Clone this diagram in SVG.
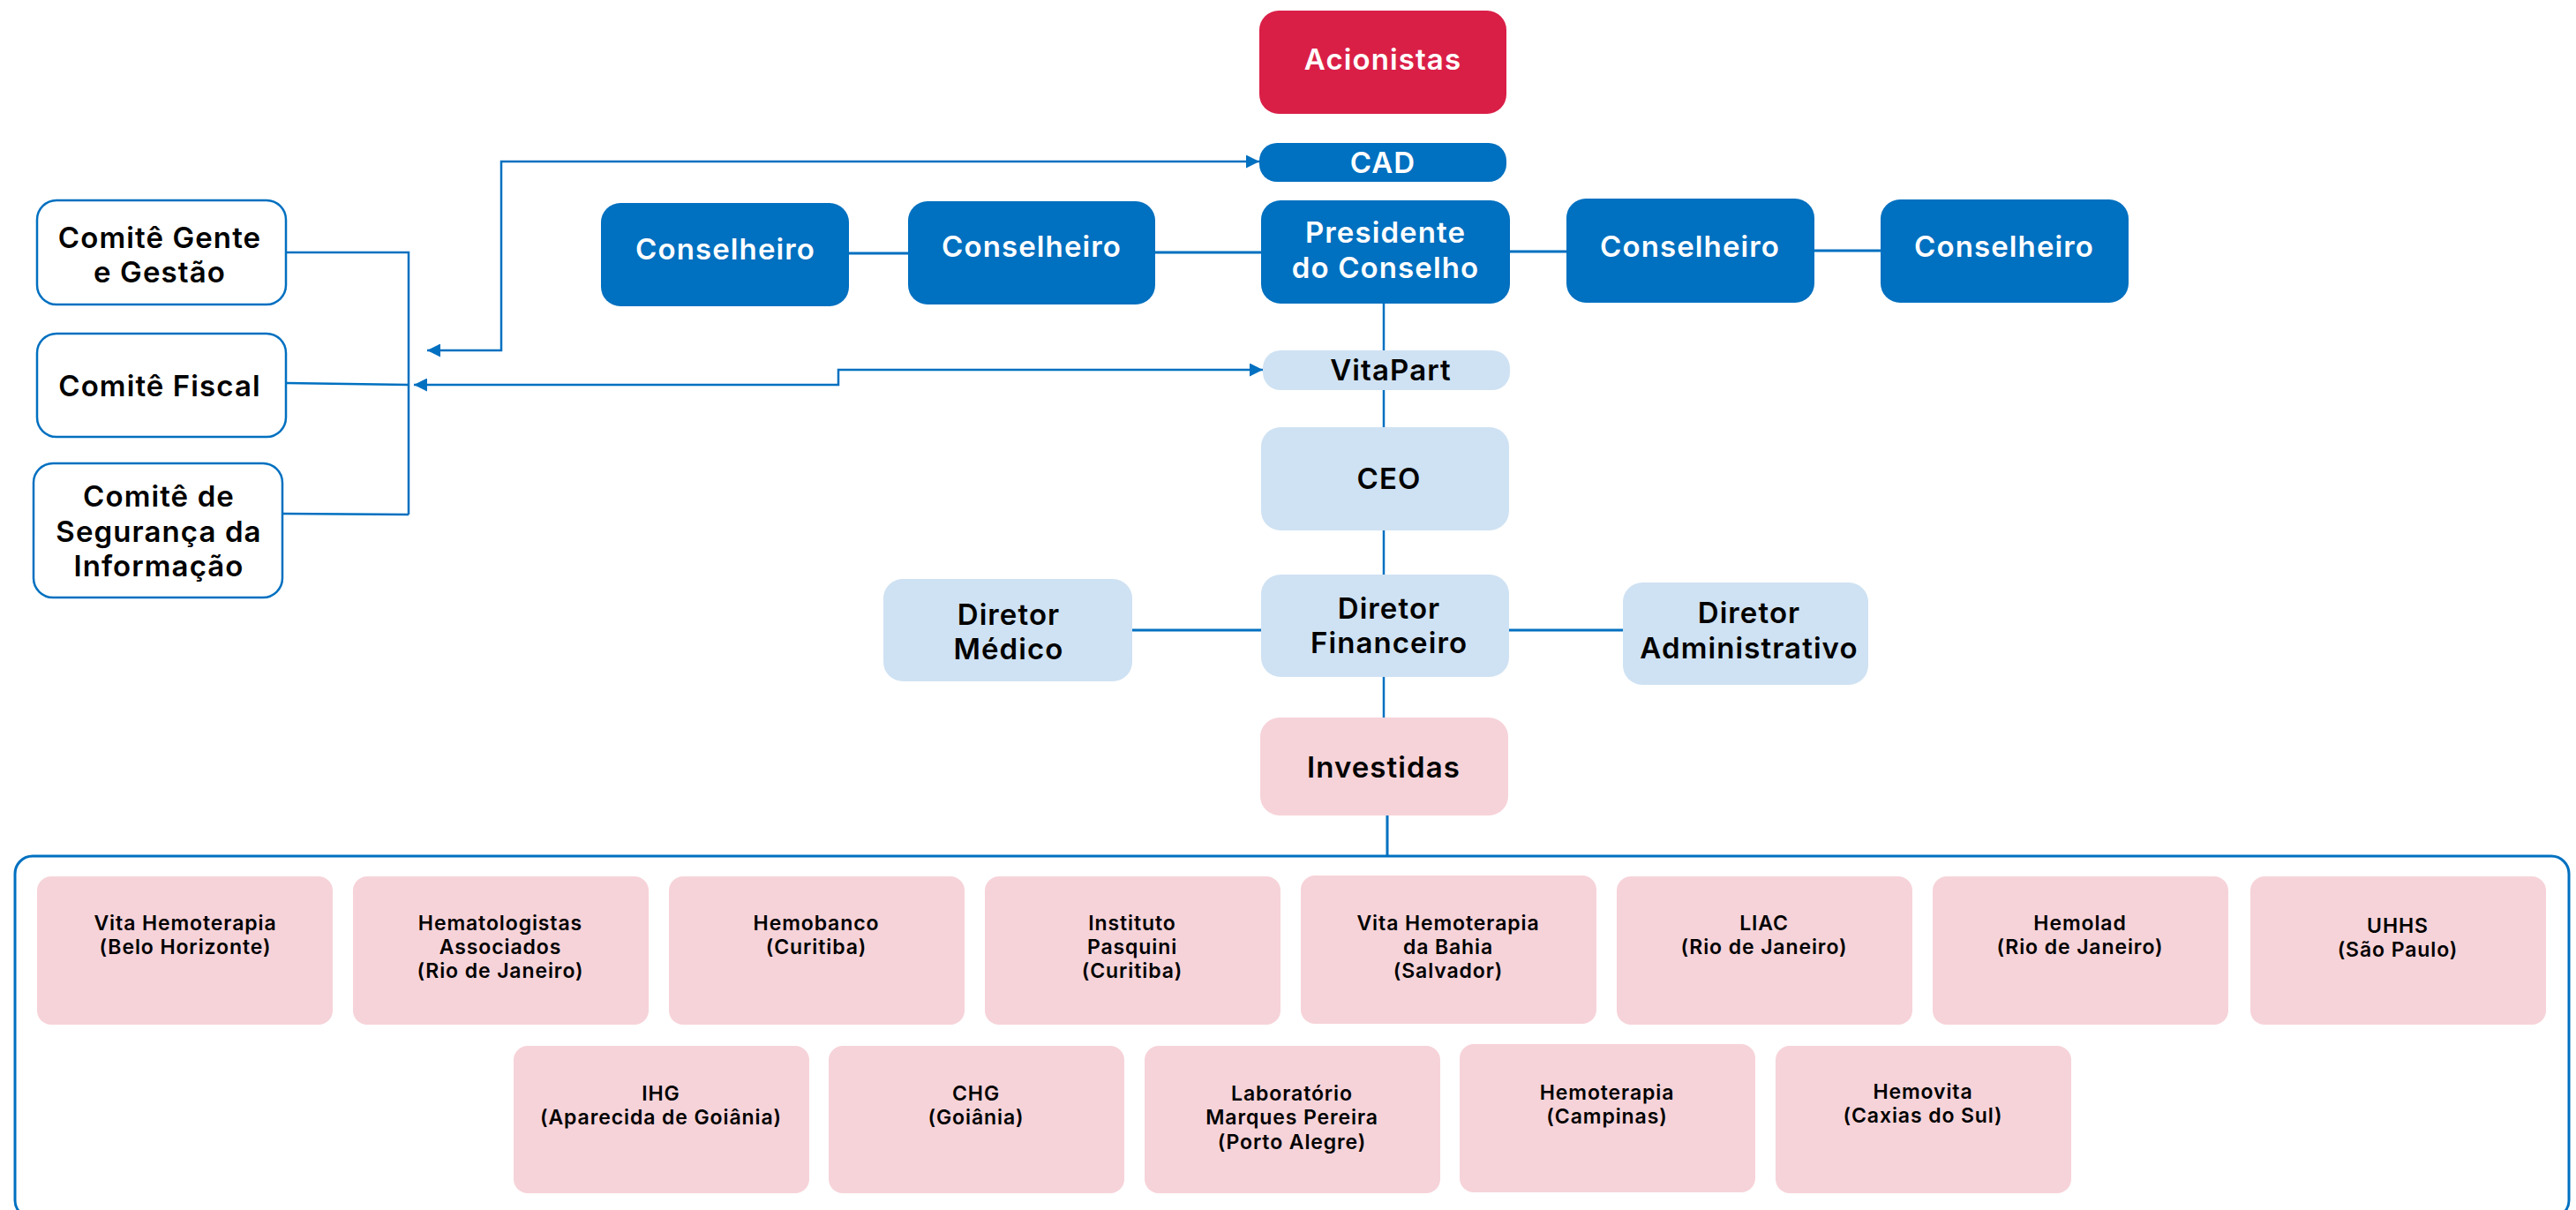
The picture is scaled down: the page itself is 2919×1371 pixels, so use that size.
<svg xmlns="http://www.w3.org/2000/svg" width="2919" height="1371" viewBox="0 0 2919 1371">
<defs>
<style>
.dark{fill:#0070C0}
.red{fill:#DA1F47}
.light{fill:#CFE2F3}
.pink{fill:#F6D3D9}
.com{fill:#FFFFFF;stroke:#0070C0;stroke-width:2.5}
.tw{font-family:Inter,"Open Sans",sans-serif;font-weight:600;font-size:33px;letter-spacing:1.1px;fill:#FFFFFF;text-anchor:middle}
.tb{font-family:Inter,"Open Sans",sans-serif;font-weight:600;font-size:33px;letter-spacing:1.1px;fill:#000000;text-anchor:middle}
.ts{font-family:Inter,"Open Sans",sans-serif;font-weight:600;font-size:23px;letter-spacing:0.9px;fill:#000000;text-anchor:middle}
.ln{fill:none;stroke:#0070C0;stroke-width:2.5}
.lh{fill:none;stroke:#0070C0;stroke-width:3}
</style>
<marker id="ah" viewBox="0 0 10 10" refX="10" refY="5" markerWidth="6" markerHeight="6" markerUnits="strokeWidth" orient="auto-start-reverse">
<path d="M0,0 L10,5 L0,10 z" fill="#0070C0"/>
</marker>
</defs>
<rect width="2919" height="1371" fill="#FFFFFF"/>

<g id="connectors">
<path class="lh" d="M962,287 H1029"/>
<path class="lh" d="M1309,286 H1429"/>
<path class="lh" d="M1711,285 H1775"/>
<path class="lh" d="M2056,284 H2131"/>
<path class="ln" d="M1568,344 V397"/>
<path class="ln" d="M1568,442 V484"/>
<path class="ln" d="M1568,601 V651"/>
<path class="ln" d="M1568,767 V813"/>
<path class="lh" d="M1572,924 V970"/>
<path class="lh" d="M1283,714 H1429"/>
<path class="lh" d="M1710,714 H1839"/>
<path class="ln" d="M324,286 H463 V583"/>
<path class="ln" d="M324,434 L463,436"/>
<path class="ln" d="M320,582 L463,583"/>
<path class="ln" d="M484,397 H568 V183 H1427" marker-start="url(#ah)" marker-end="url(#ah)"/>
<path class="ln" d="M469,436 H950 V419 H1431" marker-start="url(#ah)" marker-end="url(#ah)"/>
</g>

<g id="acionistas"><rect class="red" x="1427" y="12" width="280" height="117" rx="22"/><text class="tw" x="1567" y="79">Acionistas</text></g>
<g id="cad"><rect class="dark" x="1427" y="162" width="280" height="44" rx="20"/><text class="tw" x="1567" y="196">CAD</text></g>
<g id="presidente"><rect class="dark" x="1429" y="227" width="282" height="117" rx="22"/><text class="tw" x="1570" y="275">Presidente</text><text class="tw" x="1570" y="315">do Conselho</text></g>
<g id="conselheiro1"><rect class="dark" x="681" y="230" width="281" height="117" rx="22"/><text class="tw" x="822" y="294">Conselheiro</text></g>
<g id="conselheiro2"><rect class="dark" x="1029" y="228" width="280" height="117" rx="22"/><text class="tw" x="1169" y="291">Conselheiro</text></g>
<g id="conselheiro3"><rect class="dark" x="1775" y="225" width="281" height="118" rx="22"/><text class="tw" x="1915" y="291">Conselheiro</text></g>
<g id="conselheiro4"><rect class="dark" x="2131" y="226" width="281" height="117" rx="22"/><text class="tw" x="2271" y="291">Conselheiro</text></g>

<g id="comite-gente"><rect class="com" x="42" y="227" width="282" height="118" rx="22"/><text class="tb" x="181" y="281">Comitê Gente</text><text class="tb" x="181" y="320">e Gestão</text></g>
<g id="comite-fiscal"><rect class="com" x="42" y="378" width="282" height="117" rx="22"/><text class="tb" x="181" y="449">Comitê Fiscal</text></g>
<g id="comite-seguranca"><rect class="com" x="38" y="525" width="282" height="152" rx="22"/><text class="tb" x="180" y="574">Comitê de</text><text class="tb" x="180" y="614">Segurança da</text><text class="tb" x="180" y="653">Informação</text></g>

<g id="vitapart"><rect class="light" x="1431" y="397" width="280" height="45" rx="20"/><text class="tb" x="1576" y="431">VitaPart</text></g>
<g id="ceo"><rect class="light" x="1429" y="484" width="281" height="117" rx="22"/><text class="tb" x="1574" y="554">CEO</text></g>
<g id="diretor-financeiro"><rect class="light" x="1429" y="651" width="281" height="116" rx="22"/><text class="tb" x="1574" y="701">Diretor</text><text class="tb" x="1574" y="740">Financeiro</text></g>
<g id="diretor-medico"><rect class="light" x="1001" y="656" width="282" height="116" rx="22"/><text class="tb" x="1143" y="708">Diretor</text><text class="tb" x="1143" y="747">Médico</text></g>
<g id="diretor-administrativo"><rect class="light" x="1839" y="660" width="278" height="116" rx="22"/><text class="tb" x="1982" y="706">Diretor</text><text class="tb" x="1982" y="746">Administrativo</text></g>
<g id="investidas"><rect class="pink" x="1428" y="813" width="281" height="111" rx="22"/><text class="tb" x="1568" y="881">Investidas</text></g>

<g id="investidas-container"><rect x="17" y="970" width="2894" height="410" rx="20" fill="none" stroke="#0070C0" stroke-width="3"/></g>

<g id="vita-bh"><rect class="pink" x="42" y="993" width="335" height="168" rx="16"/><text class="ts" x="210" y="1054">Vita Hemoterapia</text><text class="ts" x="210" y="1081">(Belo Horizonte)</text></g>
<g id="hematologistas"><rect class="pink" x="400" y="993" width="335" height="168" rx="16"/><text class="ts" x="567" y="1054">Hematologistas</text><text class="ts" x="567" y="1081">Associados</text><text class="ts" x="567" y="1108">(Rio de Janeiro)</text></g>
<g id="hemobanco"><rect class="pink" x="758" y="993" width="335" height="168" rx="16"/><text class="ts" x="925" y="1054">Hemobanco</text><text class="ts" x="925" y="1081">(Curitiba)</text></g>
<g id="pasquini"><rect class="pink" x="1116" y="993" width="335" height="168" rx="16"/><text class="ts" x="1283" y="1054">Instituto</text><text class="ts" x="1283" y="1081">Pasquini</text><text class="ts" x="1283" y="1108">(Curitiba)</text></g>
<g id="vita-bahia"><rect class="pink" x="1474" y="992" width="335" height="168" rx="16"/><text class="ts" x="1641" y="1054">Vita Hemoterapia</text><text class="ts" x="1641" y="1081">da Bahia</text><text class="ts" x="1641" y="1108">(Salvador)</text></g>
<g id="liac"><rect class="pink" x="1832" y="993" width="335" height="168" rx="16"/><text class="ts" x="1999" y="1054">LIAC</text><text class="ts" x="1999" y="1081">(Rio de Janeiro)</text></g>
<g id="hemolad"><rect class="pink" x="2190" y="993" width="335" height="168" rx="16"/><text class="ts" x="2357" y="1054">Hemolad</text><text class="ts" x="2357" y="1081">(Rio de Janeiro)</text></g>
<g id="uhhs"><rect class="pink" x="2550" y="993" width="335" height="168" rx="16"/><text class="ts" x="2717" y="1057">UHHS</text><text class="ts" x="2717" y="1084">(São Paulo)</text></g>

<g id="ihg"><rect class="pink" x="582" y="1185" width="335" height="167" rx="16"/><text class="ts" x="749" y="1247">IHG</text><text class="ts" x="749" y="1274">(Aparecida de Goiânia)</text></g>
<g id="chg"><rect class="pink" x="939" y="1185" width="335" height="167" rx="16"/><text class="ts" x="1106" y="1247">CHG</text><text class="ts" x="1106" y="1274">(Goiânia)</text></g>
<g id="laboratorio"><rect class="pink" x="1297" y="1185" width="335" height="167" rx="16"/><text class="ts" x="1464" y="1247">Laboratório</text><text class="ts" x="1464" y="1274">Marques Pereira</text><text class="ts" x="1464" y="1302">(Porto Alegre)</text></g>
<g id="hemoterapia-campinas"><rect class="pink" x="1654" y="1183" width="335" height="168" rx="16"/><text class="ts" x="1821" y="1246">Hemoterapia</text><text class="ts" x="1821" y="1273">(Campinas)</text></g>
<g id="hemovita"><rect class="pink" x="2012" y="1185" width="335" height="167" rx="16"/><text class="ts" x="2179" y="1245">Hemovita</text><text class="ts" x="2179" y="1272">(Caxias do Sul)</text></g>
</svg>
